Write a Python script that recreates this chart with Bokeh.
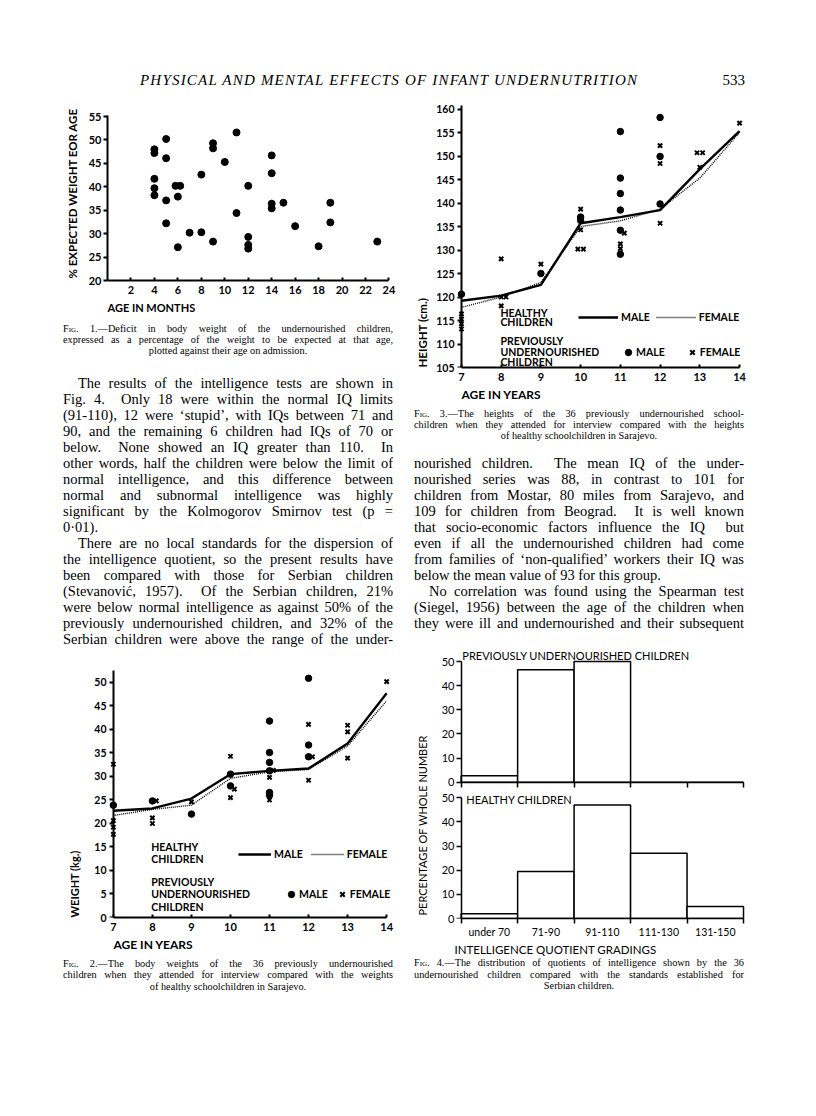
import math
from bokeh.plotting import figure
from bokeh.models import (Range1d, LinearAxis, FixedTicker, Title, Legend, LegendItem, Div)
from bokeh.layouts import column, row
from bokeh.core.properties import value
from bokeh.embed import file_html
from bokeh.resources import INLINE

SANS = "Lato"
SERIF = "Liberation Serif"

# ---------------- data ----------------
# Fig. 1
fig1_age_months = [4, 4, 4, 4, 4, 5, 5, 5, 5, 5.8, 6.2, 6, 6, 7, 8, 8, 9, 9, 9, 10,
                   11, 11, 12, 12, 12, 12, 14, 14, 14, 14, 15, 16, 18, 19, 19, 23]
fig1_pct_expected = [48.0, 47.2, 41.7, 39.7, 38.2, 50.2, 46.1, 37.1, 32.2, 40.2, 40.2,
                     37.9, 27.1, 30.2, 42.6, 30.3, 49.3, 48.2, 28.3, 45.3, 51.6, 34.4,
                     40.2, 29.3, 27.6, 26.8, 46.7, 42.9, 36.4, 35.4, 36.6, 31.6, 27.3,
                     36.6, 32.4, 28.3]
fig1_x_ticks = [2, 4, 6, 8, 10, 12, 14, 16, 18, 20, 22, 24]
fig1_y_ticks = [20, 25, 30, 35, 40, 45, 50, 55]

# Fig. 2 (weights)
years = [7, 8, 9, 10, 11, 12, 13, 14]
weight_healthy_male = [22.7, 23.2, 25.3, 30.5, 31.2, 31.7, 37.0, 47.7]
weight_healthy_female = [21.7, 23.0, 23.9, 29.6, 31.0, 31.5, 36.5, 46.1]
weight_under_male_age = [7, 8, 9, 10, 10, 11, 11, 11, 11, 11, 11, 12, 12, 12]
weight_under_male_kg = [23.9, 24.8, 22.0, 30.5, 28.0, 41.8, 35.1, 33.0, 31.2, 26.6,
                        26.0, 50.9, 36.7, 34.2]
weight_under_female_age = [7, 7, 7, 7, 8.1, 8, 8, 9, 10, 10.1, 10, 11.1, 11, 11, 12.1,
                           12, 12, 13, 13, 13, 14]
weight_under_female_kg = [32.6, 20.6, 19.2, 17.7, 24.8, 21.2, 20.0, 24.6, 34.3, 27.3,
                          25.5, 31.3, 29.8, 25.0, 34.2, 41.1, 29.2, 40.9, 39.5, 33.9, 50.2]
weight_ticks = [0, 5, 10, 15, 20, 25, 30, 35, 40, 45, 50]

# Fig. 3 (heights)
height_healthy_male = [119.2, 120.3, 122.6, 135.7, 137.0, 138.5, 147.2, 155.3]
height_healthy_female = [117.8, 120.0, 123.1, 135.0, 136.2, 138.7, 145.3, 155.0]
height_under_male_age = [7, 9, 10, 10, 11, 11, 11, 11, 11, 11, 12, 12, 12]
height_under_male_cm = [120.6, 125.0, 137.0, 136.3, 155.2, 145.3, 142.0, 138.5, 134.2,
                        129.1, 158.2, 149.9, 139.8]
height_under_female_age = [7, 7, 7, 7, 8, 8, 8.12, 8, 9, 9.93, 10.07, 10, 10, 11.1, 11,
                           11, 12, 12, 12, 12.93, 13.07, 13, 14]
height_under_female_cm = [116.4, 115.3, 114.3, 113.2, 128.1, 120.0, 120.0, 118.1, 127.0,
                          130.2, 130.2, 138.7, 134.3, 133.6, 131.3, 130.3, 152.2, 148.4,
                          135.7, 150.7, 150.7, 147.6, 157.0]
height_ticks = [105, 110, 115, 120, 125, 130, 135, 140, 145, 150, 155, 160]

# Fig. 4 (IQ)
iq_grades = ["under 70", "71-90", "91-110", "111-130", "131-150"]
iq_undernourished = [2.7, 46.6, 50.0, 0.0, 0.0]
iq_healthy = [2.0, 19.5, 47.0, 27.0, 5.0]
pct_ticks = [0, 10, 20, 30, 40, 50]

# ---------------- text ----------------
header_title = "PHYSICAL AND MENTAL EFFECTS OF INFANT UNDERNUTRITION"
page_number = "533"
SC = '<span style="font-variant:small-caps">Fig.</span>'
cap1_lines = [SC + " 1.—Deficit in body weight of the undernourished children,",
              "expressed as a percentage of the weight to be expected at that age,",
              "plotted against their age on admission."]
cap2_lines = [SC + " 2.—The body weights of the 36 previously undernourished",
              "children when they attended for interview compared with the weights",
              "of healthy schoolchildren in Sarajevo."]
cap3_lines = [SC + " 3.—The heights of the 36 previously undernourished school-",
              "children when they attended for interview compared with the heights",
              "of healthy schoolchildren in Sarajevo."]
cap4_lines = [SC + " 4.—The distribution of quotients of intelligence shown by the 36",
              "undernourished children compared with the standards established for",
              "Serbian children."]
left_lines = ["The results of the intelligence tests are shown in",
              "Fig. 4.&nbsp; Only 18 were within the normal IQ limits",
              "(91-110), 12 were ‘stupid’, with IQs between 71 and",
              "90, and the remaining 6 children had IQs of 70 or",
              "below.&nbsp; None showed an IQ greater than 110.&nbsp; In",
              "other words, half the children were below the limit of",
              "normal intelligence, and this difference between",
              "normal and subnormal intelligence was highly",
              "significant by the Kolmogorov Smirnov test (p =",
              "0·01).",
              "There are no local standards for the dispersion of",
              "the intelligence quotient, so the present results have",
              "been compared with those for Serbian children",
              "(Stevanović, 1957).&nbsp; Of the Serbian children, 21%",
              "were below normal intelligence as against 50% of the",
              "previously undernourished children, and 32% of the",
              "Serbian children were above the range of the under-"]
right_lines = ["nourished children.&nbsp; The mean IQ of the under-",
               "nourished series was 88, in contrast to 101 for",
               "children from Mostar, 80 miles from Sarajevo, and",
               "109 for children from Beograd.&nbsp; It is well known",
               "that socio-economic factors influence the IQ&nbsp; but",
               "even if all the undernourished children had come",
               "from families of ‘non-qualified’ workers their IQ was",
               "below the mean value of 93 for this group.",
               "No correlation was found using the Spearman test",
               "(Siegel, 1956) between the age of the children when",
               "they were ill and undernourished and their subsequent"]


# ---------------- helpers ----------------
def make_fig(w, h, L, R, T, B, xr, yr):
    p = figure(width=w, height=h, x_range=xr, y_range=yr, output_backend="svg",
               toolbar_location=None, min_border_left=L, min_border_right=R,
               min_border_top=T, min_border_bottom=B)
    p.outline_line_color = None
    p.xgrid.visible = False
    p.ygrid.visible = False
    return p


def style_axis(ax, size="10px", style="bold", tick_in=0, tick_out=4, width=2, standoff=2):
    ax.axis_line_color = "black"
    ax.axis_line_width = width
    ax.major_tick_line_color = "black"
    ax.major_tick_line_width = width
    ax.major_tick_out = tick_out
    ax.major_tick_in = tick_in
    ax.minor_tick_line_color = None
    ax.major_label_text_font = SANS
    ax.major_label_text_font_size = size
    ax.major_label_text_font_style = style
    ax.major_label_text_color = "black"
    ax.major_label_standoff = standoff
    ax.axis_label_standoff = 0


def labels_only(ax):
    ax.axis_line_color = None
    ax.major_tick_line_color = None
    ax.major_tick_out = 0
    ax.major_tick_in = 0


def tick_axis(minor_ticks, bounds, loc, width, tin, tout, range_name=None):
    kw = {}
    if range_name:
        kw["y_range_name"] = range_name
    ax = LinearAxis(ticker=FixedTicker(ticks=[], minor_ticks=minor_ticks), bounds=bounds,
                    fixed_location=loc, **kw)
    ax.axis_line_color = "black"
    ax.axis_line_width = width
    ax.major_tick_line_color = None
    ax.minor_tick_line_color = "black"
    ax.minor_tick_line_width = width
    ax.minor_tick_in = tin
    ax.minor_tick_out = tout
    ax.axis_label_standoff = 0
    ax.major_label_standoff = 0
    return ax


def side_title(p, text, place, offset, standoff, size="11px", style="bold", align="left"):
    t = Title(text=text, align=align, offset=offset, standoff=standoff, text_font=SANS,
              text_font_size=size, text_font_style=style, text_color="black")
    p.add_layout(t, place)


def heading(p, xs, ys, texts, size="10.5px", style="bold", **kw):
    p.text(x=xs, y=ys, text=texts, text_font=value(SANS), text_font_size=value(size),
           text_font_style=style, text_color="black", text_align="left",
           text_baseline="middle", **kw)


def make_legend(items, loc, gw, gh, standoff, spacing):
    return Legend(items=items, location=loc, orientation="horizontal", glyph_width=gw,
                  glyph_height=gh, label_height=gh, label_standoff=standoff, spacing=spacing,
                  padding=0, margin=0, border_line_color=None, background_fill_alpha=0,
                  label_text_font=SANS, label_text_font_size="10.5px",
                  label_text_font_style="bold", label_text_color="black")


def text_block(lines, height, ml, pt, fs, lh, colw, width=330, left_last=(), center_last=(),
               indents=()):
    parts = []
    for i, ln in enumerate(lines):
        if i in center_last:
            tal = "center"
        elif i in left_last:
            tal = "left"
        else:
            tal = "justify"
        ind = 15 if i in indents else 0
        parts.append(
            f'<div style="height:{lh}px;line-height:{lh}px;text-align:justify;'
            f'text-align-last:{tal};padding-left:{ind}px;overflow:hidden;">{ln}</div>')
    html = (f'<div style="margin-left:{ml}px;width:{width}px;padding-top:{pt}px;'
            f'font-family:\'{SERIF}\';font-size:{fs}px;color:#000;">' + "".join(parts) +
            '</div>')
    return Div(text=html, width=colw, height=height, margin=(0, 0, 0, 0))


LW = 388   # left column width  (page x 8 .. 396)
RW = 400   # right column width (page x 396 .. 796)

# ---------------- header ----------------
header_html = (
    f'<div style="position:relative;width:800px;height:88px;font-family:\'{SERIF}\';color:#000;">'
    f'<div style="position:absolute;left:132px;top:63px;font-size:15px;line-height:18px;'
    f'font-style:italic;letter-spacing:1.2px;white-space:nowrap;">{header_title}</div>'
    f'<div style="position:absolute;right:63px;top:63px;font-size:15px;line-height:18px;">'
    f'{page_number}</div></div>')
header = Div(text=header_html, width=800, height=88, margin=(0, 0, 0, 0))

# ---------------- Fig. 1 ----------------
p1 = make_fig(LW, 222, 99, 4, 18, 38, Range1d(0, 24.3), Range1d(20, 55.43))
p1.xaxis.ticker = FixedTicker(ticks=fig1_x_ticks)
p1.yaxis.ticker = FixedTicker(ticks=fig1_y_ticks)
p1.xaxis.bounds = (0, 24)
p1.yaxis.bounds = (20, 55.2)
style_axis(p1.xaxis[0], "11px", tick_in=3, tick_out=0, standoff=5)
style_axis(p1.yaxis[0], "11px")
p1.scatter(fig1_age_months, fig1_pct_expected, size=7, color="black")
side_title(p1, "% EXPECTED WEIGHT EOR AGE", "left", 2, 14, size="11.5px")
side_title(p1, "AGE IN MONTHS", "below", 0, 4, size="11px")

# ---------------- Fig. 2 ----------------
p2 = make_fig(LW, 305, 94, 0, 19, 36, Range1d(6.85, 14.15), Range1d(0, 53.19))
p2.xaxis.ticker = FixedTicker(ticks=years)
p2.yaxis.ticker = FixedTicker(ticks=weight_ticks)
p2.xaxis.bounds = (7, 14)
style_axis(p2.xaxis[0], "11px", tick_in=3, tick_out=0, standoff=5)
style_axis(p2.yaxis[0], "10.5px", standoff=1)
labels_only(p2.yaxis[0])
p2.add_layout(tick_axis(weight_ticks, (0, 52.5), 7, 2, 0, 4), "left")
r2m = p2.line(years, weight_healthy_male, line_width=2.4, color="black")
r2f = p2.line(years, weight_healthy_female, line_width=1.4, color="black", line_dash="1 1")
r2d = p2.scatter(weight_under_male_age, weight_under_male_kg, size=6.5, color="black")
r2x = p2.scatter(weight_under_female_age, weight_under_female_kg, marker="x", size=6,
                 line_width=2, color="black")
heading(p2, [7.97, 7.97], [14.9, 12.4], ["HEALTHY", "CHILDREN"])
heading(p2, [7.97, 7.97, 7.97], [7.45, 4.96, 2.3], ["PREVIOUSLY", "UNDERNOURISHED", "CHILDREN"])
p2.add_layout(make_legend([LegendItem(label="MALE", renderers=[r2m]),
                           LegendItem(label="FEMALE", renderers=[r2f])],
                          (131, 57.5), 33, 12, 3, 8))
p2.add_layout(make_legend([LegendItem(label="MALE", renderers=[r2d]),
                           LegendItem(label="FEMALE", renderers=[r2x])],
                          (176, 15), 16, 16, 0, 6))
side_title(p2, "WEIGHT (kg.)", "left", 0, 22)
side_title(p2, "AGE IN YEARS", "below", 6, 3, size="12px")

# ---------------- Fig. 3 ----------------
p3 = make_fig(RW, 310, 56, 51, 8, 39, Range1d(6.85, 14.15), Range1d(105, 160.96))
p3.xaxis.ticker = FixedTicker(ticks=years)
p3.yaxis.ticker = FixedTicker(ticks=height_ticks)
p3.xaxis.bounds = (7, 14)
style_axis(p3.xaxis[0], "11px", tick_in=3, tick_out=0, standoff=5)
style_axis(p3.yaxis[0], "10.5px", standoff=1)
labels_only(p3.yaxis[0])
p3.add_layout(tick_axis(height_ticks, (105, 160.8), 7, 2, 4, 0), "right")
r3m = p3.line(years, height_healthy_male, line_width=2.4, color="black")
r3f = p3.line(years, height_healthy_female, line_width=1.4, color="black", line_dash="1 1")
r3d = p3.scatter(height_under_male_age, height_under_male_cm, size=6.5, color="black")
r3x = p3.scatter(height_under_female_age, height_under_female_cm, marker="x", size=6,
                 line_width=2, color="black")
heading(p3, [7.98, 7.98], [116.7, 114.6], ["HEALTHY", "CHILDREN"])
heading(p3, [7.98, 7.98, 7.98], [110.7, 108.2, 106.1], ["PREVIOUSLY", "UNDERNOURISHED", "CHILDREN"])
p3.add_layout(make_legend([LegendItem(label="MALE", renderers=[r3m]),
                           LegendItem(label="FEMALE", renderers=[r3f])],
                          (123, 44), 40, 12, 3, 6))
p3.add_layout(make_legend([LegendItem(label="MALE", renderers=[r3d]),
                           LegendItem(label="FEMALE", renderers=[r3x])],
                          (165, 7), 16, 16, 0, 19))
side_title(p3, "HEIGHT  (cm.)", "left", 0, 9, size="11.5px")
side_title(p3, "AGE IN YEARS", "below", 6, 3, size="12px")

# ---------------- Fig. 4 ----------------
n_bins = len(iq_grades)
bin_left = [i for i in range(n_bins)]
bin_right = [i + 1 for i in range(n_bins)]
bin_mid = [i + 0.5 for i in range(n_bins)]
bin_edges = [i for i in range(n_bins + 1)]
TOP_OFFSET = 56.5          # vertical offset of the upper panel, in bottom-panel units
top_tick_pos = [t + TOP_OFFSET for t in pct_ticks]

p4 = make_fig(RW, 310, 59, 51, 4, 35, Range1d(-0.1, 5.035), Range1d(0, 111.07))
p4.extra_y_ranges = {"top": Range1d(-TOP_OFFSET, 111.07 - TOP_OFFSET)}
bottom_x = p4.below[0]
left_y = p4.left[0]

# tick labels of both panels
left_y.ticker = FixedTicker(ticks=pct_ticks + top_tick_pos)
left_y.major_label_overrides = {pos: str(t) for pos, t in zip(top_tick_pos, pct_ticks)}
style_axis(left_y, "11px", style="normal", width=1.5, standoff=1)
labels_only(left_y)
# axis lines + ticks of both panels
p4.add_layout(tick_axis(pct_ticks, (0, 50), 0, 1.5, 5, 0), "right")
p4.add_layout(tick_axis(pct_ticks, (0, 50), 0, 1.5, 5, 0, range_name="top"), "right")

bottom_x.ticker = FixedTicker(ticks=bin_mid, minor_ticks=bin_edges)
bottom_x.major_label_overrides = {m: g for m, g in zip(bin_mid, iq_grades)}
bottom_x.bounds = (0, n_bins)
style_axis(bottom_x, "10.5px", style="normal", width=1.5)
bottom_x.major_tick_line_color = None
bottom_x.minor_tick_line_color = "black"
bottom_x.minor_tick_line_width = 1.5
bottom_x.minor_tick_out = 5
bottom_x.minor_tick_in = 0

ax_top_x = LinearAxis(y_range_name="top", ticker=FixedTicker(ticks=[], minor_ticks=bin_edges),
                      bounds=(0, n_bins), fixed_location=0)
ax_top_x.axis_line_width = 1.5
ax_top_x.major_tick_line_color = None
ax_top_x.minor_tick_line_color = "black"
ax_top_x.minor_tick_line_width = 1.5
ax_top_x.minor_tick_in = 5
ax_top_x.minor_tick_out = 0
ax_top_x.major_label_standoff = 0
ax_top_x.axis_label_standoff = 0
p4.add_layout(ax_top_x, "above")

p4.quad(left=bin_left, right=bin_right, bottom=0, top=iq_healthy, fill_color="white",
        line_color="black", line_width=1.5)
p4.quad(left=bin_left, right=bin_right, bottom=0, top=iq_undernourished, fill_color="white",
        line_color="black", line_width=1.5, y_range_name="top")
heading(p4, [0.02], [52.3], ["PREVIOUSLY  UNDERNOURISHED  CHILDREN"], size="11px",
        style="normal", y_range_name="top")
heading(p4, [0.09], [49.3], ["HEALTHY  CHILDREN"], size="11px", style="normal")
side_title(p4, "PERCENTAGE  OF  WHOLE  NUMBER", "left", 3, 20, size="11px", style="normal")
side_title(p4, "INTELLIGENCE  QUOTIENT  GRADINGS", "below", -1, 1, size="11.5px", style="normal")

# ---------------- text blocks ----------------
cap1 = text_block(cap1_lines, 50, 55, 5, 10.3, 11, LW, center_last=(2,))
txt_left = text_block(left_lines, 280, 55, 7, 14.5, 16, LW, left_last=(9,), indents=(0, 10))
cap2 = text_block(cap2_lines, 60, 55, 4.5, 10.3, 11.5, LW, center_last=(2,))
cap3 = text_block(cap3_lines, 48, 18, 1.5, 10.3, 11, RW, center_last=(2,))
txt_right = text_block(right_lines, 192, 18, 1, 14.5, 16, RW, left_last=(7,), indents=(8,))
cap4 = text_block(cap4_lines, 60, 18, 1, 10.3, 11.5, RW, center_last=(2,))

left_col = column(p1, cap1, txt_left, p2, cap2, spacing=0)
right_col = column(p3, cap3, txt_right, p4, cap4, spacing=0)
page = column(header, row(left_col, right_col, spacing=0), spacing=0, margin=(8, 8, 8, 8))

open("out.html", "w").write(file_html(page, INLINE))
